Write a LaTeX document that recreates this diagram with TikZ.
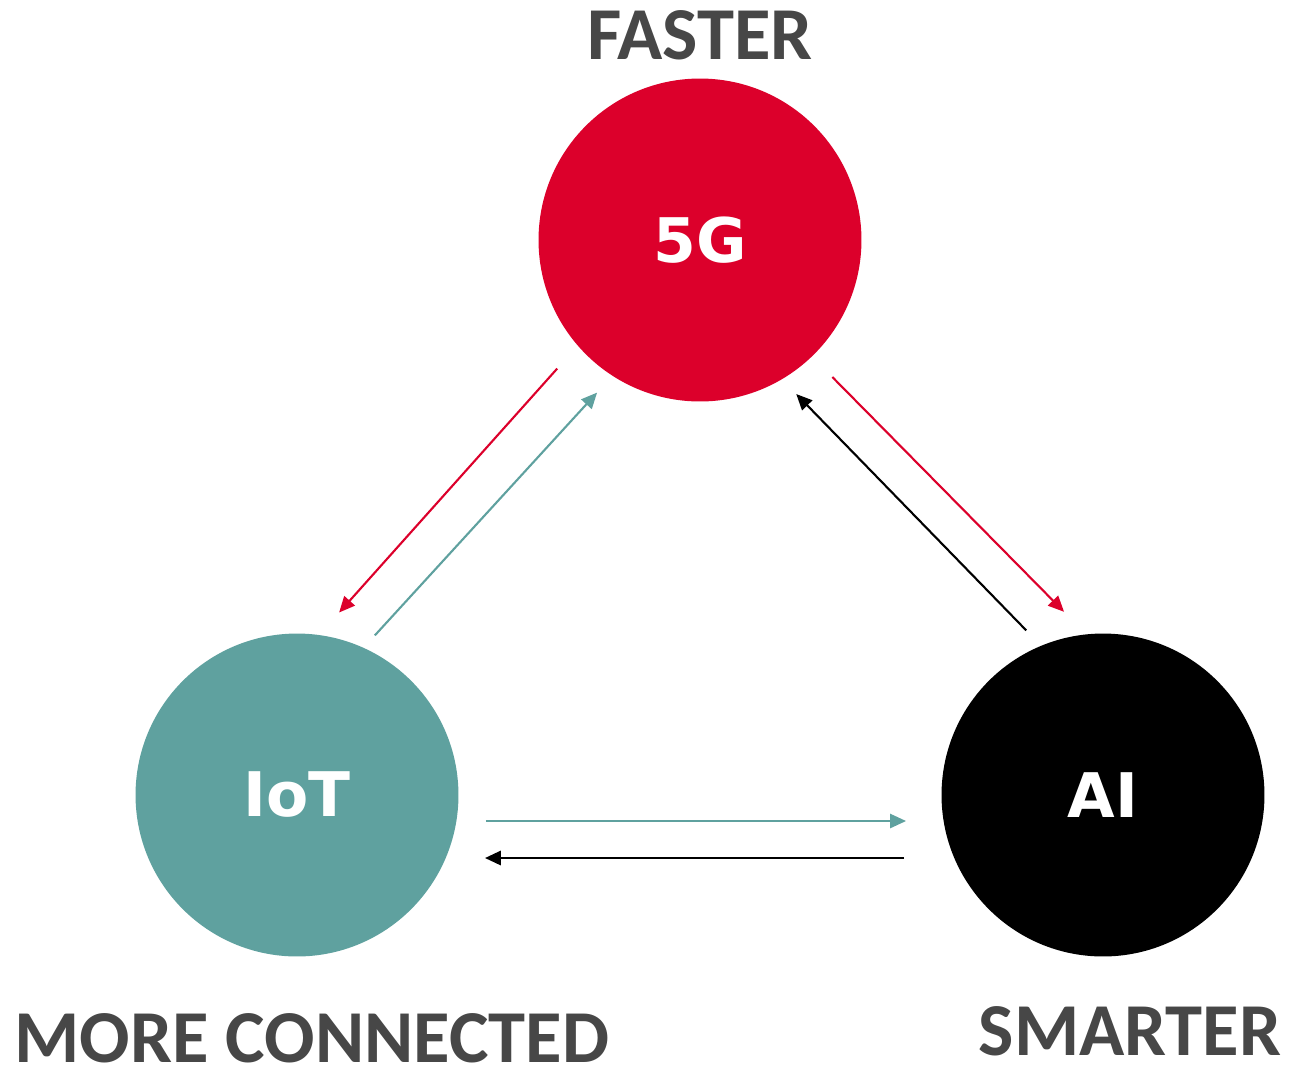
\documentclass[tikz,border=0pt]{standalone}
\usepackage{fontspec}
\usetikzlibrary{arrows.meta, calc, positioning}

\newfontfamily\hubfont{DejaVu Sans}
\newfontfamily\tagfont{Carlito}
\definecolor{netred}{HTML}{DC002B}
\definecolor{iotteal}{HTML}{5FA19F}
\definecolor{taggray}{HTML}{474747}

\begin{document}
\begin{tikzpicture}[
  x=0.02cm, y=-0.02cm,
  hub/.style={circle, minimum size=6.46cm, inner sep=0pt, outer sep=0pt, text=white, font=\hubfont\bfseries\fontsize{35}{40}\selectfont},
  tag/.style={inner sep=0pt, text=taggray, font=\tagfont\bfseries\fontsize{42.5}{48}\selectfont},
  arrow/.style={-{Triangle[length=9pt, width=8pt]}, line width=1.2pt}
]

\useasboundingbox (0,0) rectangle (1289,1066);

\node (fiveg) [hub, fill=netred] at (700,240) {5G};
\node (iot) [hub, fill=iotteal] at (297,795) {IoT};
\node (ai) [hub, fill=black] at (1103,795) {AI};

\node (faster) [tag, above=0.36cm of fiveg] {FASTER};
\node (connected) [tag, below=1.14cm of iot, xshift=0.3cm] {MORE CONNECTED};
\node (smarter) [tag, below=1.0cm of ai, xshift=0.54cm] {SMARTER};

% 5G <-> IoT
\draw[arrow, netred] ($(fiveg)!1.19!(fiveg.222)$) -- ($(iot)!1.16!(iot.77)$);
\draw[arrow, iotteal] ($(iot)!1.10!(iot.64)$) -- ($(fiveg)!1.14!(fiveg.236)$);

% 5G <-> AI
\draw[arrow, netred] ($(fiveg)!1.18!(fiveg.314)$) -- ($(ai)!1.16!(ai.102)$);
\draw[arrow, black] ($(ai)!1.125!(ai.115)$) -- ($(fiveg)!1.125!(fiveg.302)$);

% IoT <-> AI
\draw[arrow, iotteal] ($(iot.east)+(27.5,26)$) -- ($(ai.west)+(-35.5,26)$);
\draw[arrow, black, line width=1.5pt] ($(ai.west)+(-37.5,63)$) -- ($(iot.east)+(26.5,63)$);

\end{tikzpicture}
\end{document}
